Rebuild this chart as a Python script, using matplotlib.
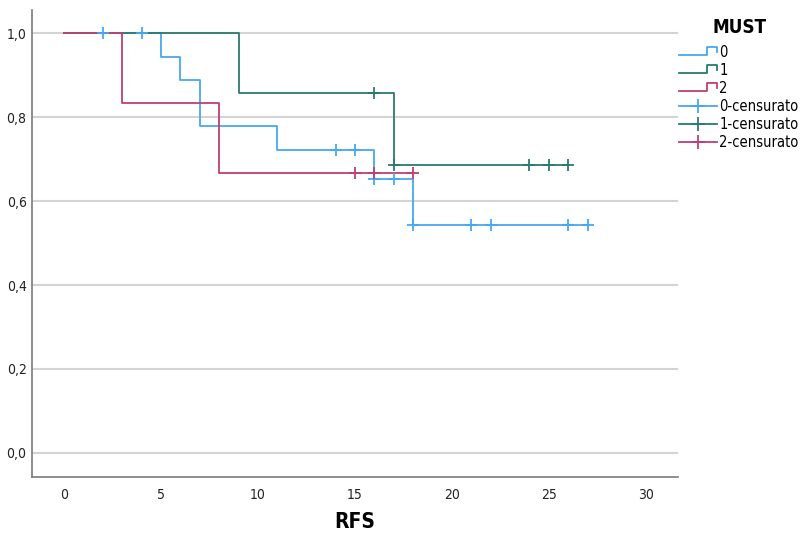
import matplotlib
matplotlib.use("Agg")
import matplotlib.pyplot as plt
from matplotlib.lines import Line2D
from matplotlib.legend_handler import HandlerBase
from matplotlib.ticker import FuncFormatter

# ─── Data ───────────────────────────────────────────────────────────────────
groups = ["0", "1", "2"]
colors = ["#45a8f2", "#2b7a70", "#bf3f76"]

t0 = [0, 5, 6, 7, 11, 16, 18, 27]
s0 = [1.0, 0.944, 0.889, 0.778, 0.722, 0.652, 0.542, 0.542]
c0_t = [2, 4, 14, 15, 16, 17, 18, 21, 22, 26, 27]
c0_s = [1.0, 1.0, 0.722, 0.722, 0.652, 0.652, 0.542, 0.542, 0.542, 0.542, 0.542]

t1 = [0, 9, 17, 26]
s1 = [1.0, 0.857, 0.686, 0.686]
c1_t = [16, 17, 24, 25, 26]
c1_s = [0.857, 0.686, 0.686, 0.686, 0.686]

t2 = [0, 3, 8, 18]
s2 = [1.0, 0.833, 0.667, 0.667]
c2_t = [15, 16, 18]
c2_s = [0.667, 0.667, 0.667]

x_ticks = [0, 5, 10, 15, 20, 25, 30]
y_ticks = [0.0, 0.2, 0.4, 0.6, 0.8, 1.0]
# ─────────────────────────────────────────────────────────────────────────────

plt.rcParams["font.family"] = ["DejaVu Sans"]
plt.rcParams["font.stretch"] = "condensed"


class StepHandler(HandlerBase):
    """Little step glyph like the SPSS legend."""
    def create_artists(self, legend, orig, xd, yd, w, h, fontsize, trans):
        xs = [xd, xd + w * 0.72, xd + w * 0.72, xd + w, xd + w]
        ys = [yd + h * 0.1, yd + h * 0.1, yd + h * 0.8, yd + h * 0.8, yd + h * 0.35]
        ln = Line2D(xs, ys, color=orig.get_color(), lw=1.3, transform=trans)
        return [ln]


fig = plt.figure(figsize=(8.03, 5.34), dpi=100)
ax = fig.add_axes([0.040, 0.107, 0.804, 0.874])

for y in y_ticks:
    ax.axhline(y, color="#d4d4d4", lw=1.5, zorder=0)

curves = [(t0, s0, c0_t, c0_s), (t1, s1, c1_t, c1_s), (t2, s2, c2_t, c2_s)]
step_handles = []
cens_handles = []
for (t, s, ct, cs), col, g in zip(curves, colors, groups):
    h, = ax.step(t, s, where="post", color=col, lw=1.3, zorder=2)
    ax.plot(ct, cs, ls="none", marker="+", ms=9, mew=1.3, color=col, zorder=3)
    step_handles.append(h)
    cens_handles.append(Line2D([], [], color=col, lw=1.3, marker="+", ms=10, mew=1.3))

ax.set_xlim(-1.65, 31.65)
ax.set_ylim(-0.057, 1.055)
ax.set_xticks(x_ticks)
ax.set_yticks(y_ticks)
ax.yaxis.set_major_formatter(FuncFormatter(lambda v, p: f"{v:.1f}".replace(".", ",")))
ax.tick_params(length=0, labelsize=10, colors="#222222")
ax.tick_params(axis="x", pad=8)
ax.tick_params(axis="y", pad=4)

for side in ["top", "right"]:
    ax.spines[side].set_visible(False)
for side in ["left", "bottom"]:
    ax.spines[side].set_color("#7a7a7a")
    ax.spines[side].set_linewidth(1.2)

fig.text(0.442, 0.022, "RFS", fontsize=15, fontweight="bold", ha="center", va="center")

labels = groups + [g + "-censurato" for g in groups]
handler_map = {h: StepHandler() for h in step_handles}
leg = fig.legend(step_handles + cens_handles, labels, handler_map=handler_map,
                 loc="upper left", bbox_to_anchor=(0.846, 0.966), frameon=False,
                 fontsize=10.5, title="MUST", handlelength=2.6, handleheight=0.9,
                 handletextpad=0.15, labelspacing=0.2, borderaxespad=0,
                 borderpad=0)
leg.get_title().set_fontweight("bold")
leg.get_title().set_fontsize(13.5)
leg._legend_box.sep = 6

fig.savefig("out.png", dpi=100)
